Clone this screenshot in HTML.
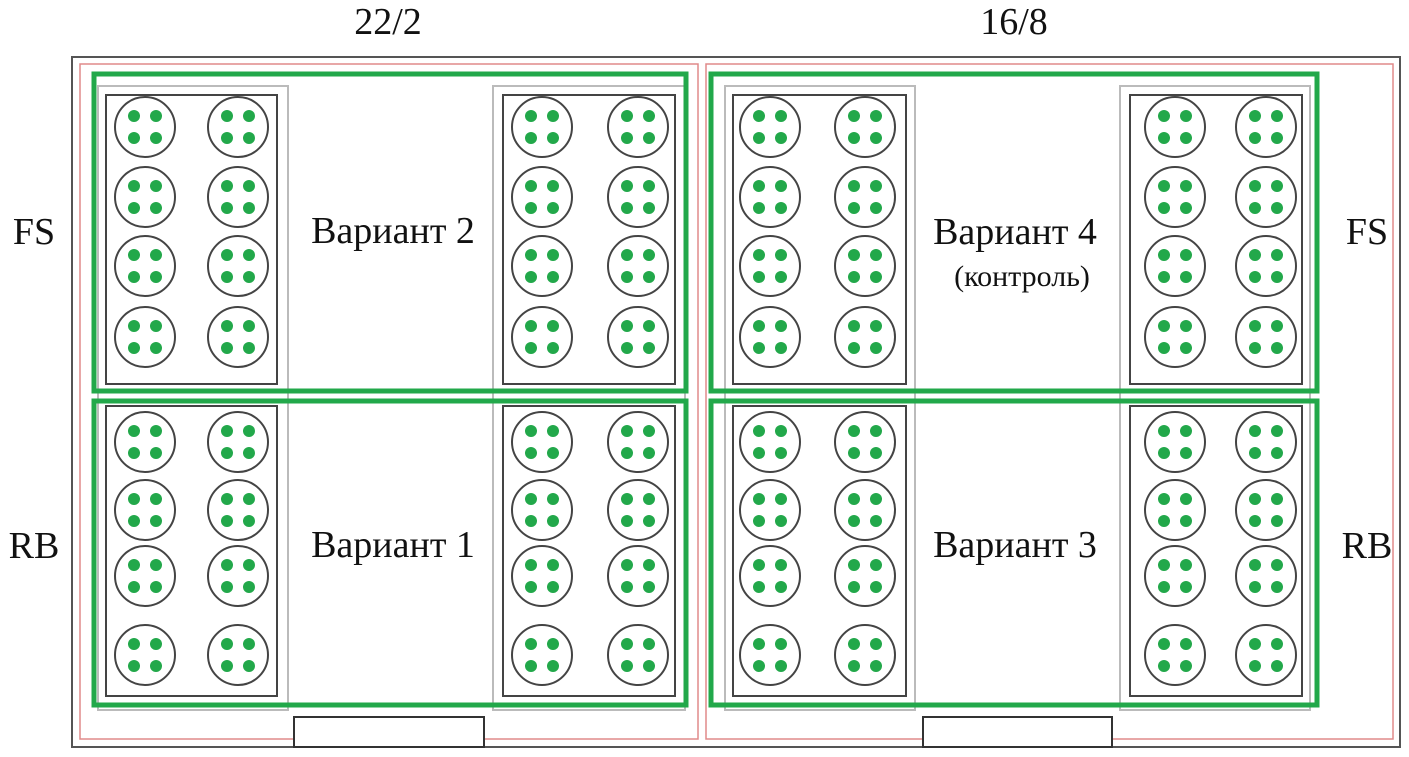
<!DOCTYPE html>
<html><head><meta charset="utf-8"><style>
html,body{margin:0;padding:0;background:#fff;width:1409px;height:757px;overflow:hidden}
svg text{font-family:"Liberation Serif",serif;fill:#111}
</style></head><body>
<svg id="s" width="1409" height="757" xmlns="http://www.w3.org/2000/svg">
<rect x="72" y="57" width="1328" height="690" fill="none" stroke="#555" stroke-width="2"/>
<rect x="80" y="64" width="618" height="675" fill="none" stroke="#e08a8a" stroke-width="1.5"/>
<rect x="706" y="64" width="687" height="675" fill="none" stroke="#e08a8a" stroke-width="1.5"/>
<g fill="none" stroke="#bbb" stroke-width="2">
<rect x="98" y="86" width="190" height="624"/>
<rect x="493" y="86" width="192" height="624"/>
<rect x="725" y="86" width="190" height="624"/>
<rect x="1120" y="86" width="190" height="624"/>
</g>
<g fill="none" stroke="#444" stroke-width="2">
<rect x="106" y="95" width="171" height="289"/>
<rect x="106" y="406" width="171" height="290"/>
<rect x="503" y="95" width="172" height="289"/>
<rect x="503" y="406" width="172" height="290"/>
<rect x="733" y="95" width="173" height="289"/>
<rect x="733" y="406" width="173" height="290"/>
<rect x="1130" y="95" width="172" height="289"/>
<rect x="1130" y="406" width="172" height="290"/>
</g>
<g id="c"></g>
<g fill="none" stroke="#22a84a" stroke-width="5">
<rect x="94" y="74" width="592" height="317"/>
<rect x="94" y="401" width="592" height="304"/>
<rect x="711" y="74" width="606" height="317"/>
<rect x="711" y="401" width="606" height="304"/>
</g>
<rect x="294" y="717" width="190" height="30" fill="#fff" stroke="#333" stroke-width="2"/>
<rect x="923" y="717" width="189" height="30" fill="#fff" stroke="#333" stroke-width="2"/>
<text x="388" y="34" font-size="38" text-anchor="middle">22/2</text>
<text x="1014" y="34" font-size="38" text-anchor="middle">16/8</text>
<text x="34" y="244" font-size="38" text-anchor="middle">FS</text>
<text x="34" y="558" font-size="38" text-anchor="middle">RB</text>
<text x="1367" y="244" font-size="38" text-anchor="middle">FS</text>
<text x="1367" y="558" font-size="38" text-anchor="middle">RB</text>
<text x="393" y="243" font-size="38" text-anchor="middle">Вариант 2</text>
<text x="393" y="557" font-size="38" text-anchor="middle">Вариант 1</text>
<text x="1015" y="244" font-size="38" text-anchor="middle">Вариант 4</text>
<text x="1022" y="286" font-size="30" text-anchor="middle">(контроль)</text>
<text x="1015" y="557" font-size="38" text-anchor="middle">Вариант 3</text>
</svg>
<script>
var g=document.getElementById('c'),h='';
var xs=[[145,238],[542,638],[770,865],[1175,1266]];
var ys=[127,197,266,337,442,510,576,655];
xs.forEach(function(p){p.forEach(function(x){ys.forEach(function(y){
h+='<circle cx="'+x+'" cy="'+y+'" r="30" fill="#fff" stroke="#444" stroke-width="2"/>';
[[-11,-11],[11,-11],[-11,11],[11,11]].forEach(function(d){h+='<circle cx="'+(x+d[0])+'" cy="'+(y+d[1])+'" r="6" fill="#22a84a"/>';});
});});});
g.innerHTML=h;
</script>
</body></html>
